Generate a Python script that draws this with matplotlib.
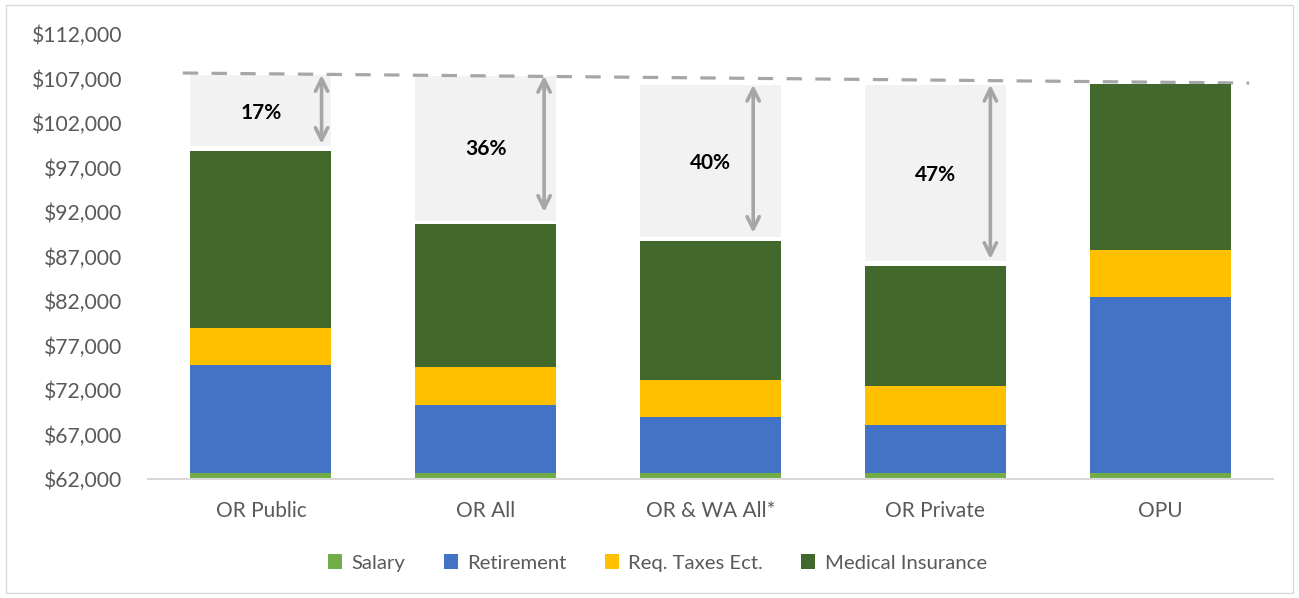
import matplotlib
matplotlib.use("Agg")
import matplotlib.pyplot as plt
from matplotlib.patches import Rectangle
from matplotlib.ticker import FuncFormatter
import numpy as np

plt.rcParams['font.family'] = ['Lato', 'DejaVu Sans']

# data
categories = ["OR Public", "OR All", "OR & WA All*", "OR Private", "OPU"]
salary = [62700, 62700, 62700, 62700, 62700]
retirement = [12100, 7600, 6270, 5370, 19750]
taxes = [4160, 4270, 4160, 4380, 5280]
medical = [19890, 16070, 15620, 13480, 18650]

# gap annotations (first four bars)
gap_labels = ["17%", "36%", "40%", "47%"]
gap_top = [107400, 107300, 106300, 106300]
gap_bottom = [99400, 91000, 89200, 86500]
arrow_low = [99650, 92000, 89650, 86720]
arrow_dx = [0.27, 0.26, 0.19, 0.245]
label_y = [103100, 99100, 97500, 96150]

# dashed reference line
ref_x = [-0.347, 4.396]
ref_y = [107620, 106490]

colors = ["#70AD47", "#4472C4", "#FFC000", "#43682B"]
names = ["Salary", "Retirement", "Req. Taxes Ect.", "Medical Insurance"]

fig = plt.figure(figsize=(12.99, 5.98), dpi=100)
ax = fig.add_axes([0.1143, 0.199, 0.8653, 0.7441])

x = np.arange(len(categories))
width = 0.627
bottom = np.zeros(len(categories))
for vals, c, n in zip([salary, retirement, taxes, medical], colors, names):
    ax.bar(x, vals, width, bottom=bottom, color=c, label=n, zorder=3)
    bottom += np.array(vals)

# grey gap boxes, arrows and labels
for i, lab in enumerate(gap_labels):
    ax.add_patch(Rectangle((x[i] - width / 2, gap_bottom[i]), width,
                           gap_top[i] - gap_bottom[i], color="#F2F2F2", zorder=1, lw=0))
    ax.annotate("", xy=(x[i] + arrow_dx[i], arrow_low[i]),
                xytext=(x[i] + arrow_dx[i], gap_top[i]),
                arrowprops=dict(arrowstyle="<->", color="#A6A6A6", lw=2.6,
                                mutation_scale=22, shrinkA=0, shrinkB=0),
                zorder=4)
    ax.text(x[i], label_y[i], lab, ha="center", va="center",
            fontsize=15, fontweight="bold", color="black", zorder=5)

ax.plot(ref_x, ref_y, color="#A6A6A6", lw=2.3, dashes=(4.8, 4.2), zorder=2)

ax.set_xlim(-0.5, 4.5)
ax.set_ylim(62000, 112000)
ax.set_yticks(np.arange(62000, 112001, 5000))
ax.yaxis.set_major_formatter(FuncFormatter(lambda v, p: f"${v:,.0f}"))
ax.set_xticks(x)
ax.set_xticklabels(categories)
ax.tick_params(axis="y", length=0, pad=19, labelsize=15.2, labelcolor="#595959")
ax.tick_params(axis="x", length=0, pad=16, labelsize=15, labelcolor="#595959")
for s in ["top", "right", "left"]:
    ax.spines[s].set_visible(False)
ax.spines["bottom"].set_color("#D9D9D9")
ax.spines["bottom"].set_linewidth(1.5)
ax.spines["bottom"].set_zorder(6)

fig.legend(loc="center", bbox_to_anchor=(0.506, 0.0585), ncol=4, frameon=False,
           fontsize=14.6, labelcolor="#595959", handlelength=0.7, handleheight=0.7,
           handletextpad=0.45, columnspacing=1.9)

fig.patches.append(Rectangle((0.005, 0.008), 0.99, 0.984, transform=fig.transFigure,
                             fill=False, edgecolor="#D9D9D9", lw=1))

fig.savefig("out.png", dpi=100)
